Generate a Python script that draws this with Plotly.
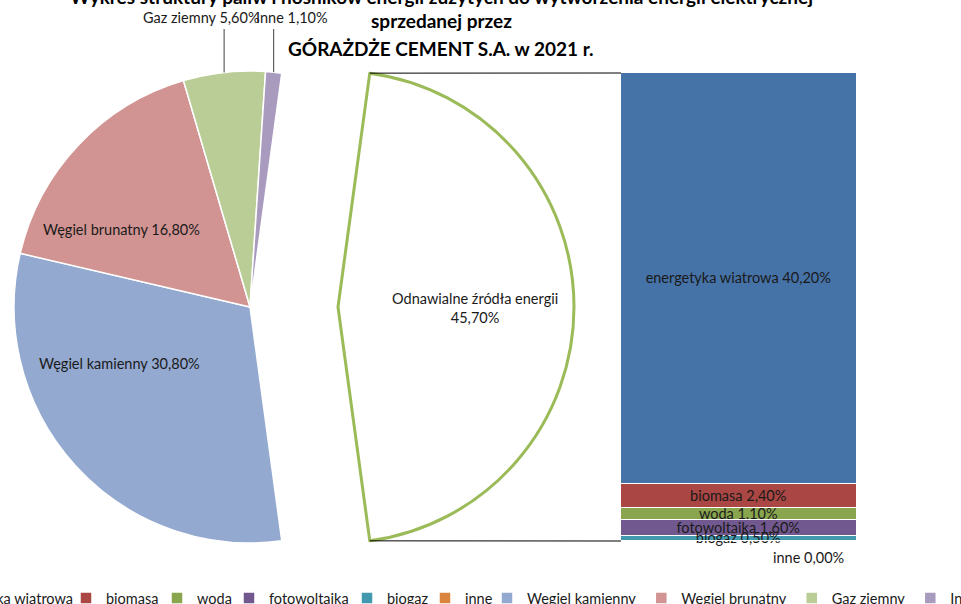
import math
import plotly.graph_objects as go

# ---------------- data ----------------
pie_labels = ["Węgiel kamienny", "Węgiel brunatny", "Gaz ziemny", "Inne", "Odnawialne źródła energii"]
pie_values = [30.8, 16.8, 5.6, 1.1, 45.7]
pie_colors = ["#94A9D0", "#D19493", "#BACD97", "#A99BBD"]

bar_labels = ["energetyka wiatrowa", "biomasa", "woda", "fotowoltaika", "biogaz", "inne"]
bar_values = [40.2, 2.4, 1.1, 1.6, 0.5, 0.0]
bar_colors = ["#4572A7", "#AA4643", "#89A54E", "#71588F", "#4198AF", "#DB843D"]

title_lines = [
    "Wykres struktury paliw i nośników energii zużytych do wytworzenia energii elektrycznej",
    "sprzedanej przez",
    "GÓRAŻDŻE CEMENT S.A. w 2021 r.",
]

# ---------------- layout geometry (pixels) ----------------
W, H = 961, 604
MB = 22
PH = H - MB
FONT = "Lato"
FS = 14.5
TXT = "#1a1a1a"


def px(x):
    return x / W


def py(y):
    return (PH - y) / PH


def fmt(v):
    return f"{v:.2f}".replace(".", ",") + "%"


R = 236
C1 = (250, 307)   # main pie centre
C2 = (338, 307)   # detached renewable slice centre
BAR_X = (621, 857)
BAR_Y = (73, 541)

total_pie = sum(pie_values)
deg = 360.0 / total_pie
rotation = 90 + pie_values[-1] * deg / 2


def edge(c, ang):
    a = math.radians(ang)
    return c[0] + R * math.sin(a), c[1] - R * math.cos(a)


fig = go.Figure()

# main pie (renewable slice invisible here)
fig.add_trace(go.Pie(
    labels=pie_labels, values=pie_values, sort=False, direction="clockwise",
    rotation=rotation, textinfo="none", hoverinfo="label+percent",
    marker=dict(colors=pie_colors + ["rgba(0,0,0,0)"],
                line=dict(color=["white"] * 4 + ["rgba(0,0,0,0)"], width=[1.5] * 4 + [0])),
    domain=dict(x=[px(C1[0] - R), px(C1[0] + R)], y=[py(C1[1] + R), py(C1[1] - R)]),
    legend="legend7", showlegend=True,
))

# detached renewable slice
fig.add_trace(go.Pie(
    labels=pie_labels, values=pie_values, sort=False, direction="clockwise",
    rotation=rotation, textinfo="none", hoverinfo="label+percent",
    marker=dict(colors=["rgba(0,0,0,0)"] * 4 + ["white"],
                line=dict(color=["rgba(0,0,0,0)"] * 4 + ["#9BBB59"], width=[0] * 4 + [3])),
    domain=dict(x=[px(C2[0] - R), px(C2[0] + R)], y=[py(C2[1] + R), py(C2[1] - R)]),
    showlegend=False,
))

# stacked bar of renewables
legend_text_x = [-60, 106, 197, 269, 387, 465]
for i, (lab, val, col) in enumerate(zip(bar_labels, bar_values, bar_colors)):
    lg = "legend" if i == 0 else f"legend{i + 1}"
    fig.add_trace(go.Bar(
        x=[0], y=[val], name=lab, width=1,
        marker=dict(color=col, line=dict(color="white", width=1.5)),
        text=[f"{lab} {fmt(val)}"] if val > 0 else None,
        textposition="inside", insidetextanchor="middle", textangle=0,
        constraintext="none", cliponaxis=False,
        insidetextfont=dict(family=FONT, size=FS, color=TXT),
        legend=lg,
    ))

annotations = []
# title
for txt, yc in zip(title_lines, [-4, 21, 48]):
    annotations.append(dict(text=f"<b>{txt}</b>", x=px(441), y=py(yc), xref="paper", yref="paper",
                            showarrow=False, xanchor="center", yanchor="middle",
                            font=dict(family=FONT, size=19, color="#000")))

# pie labels
pie_label_pos = [(119, 363), (121, 229), (201, 17), (292, 17)]
for lab, val, (x, y) in zip(pie_labels[:4], pie_values[:4], pie_label_pos):
    annotations.append(dict(text=f"{lab} {fmt(val)}", x=px(x), y=py(y), xref="paper", yref="paper",
                            showarrow=False, xanchor="center", yanchor="middle",
                            font=dict(family=FONT, size=FS, color=TXT)))
annotations.append(dict(text=f"{pie_labels[4]}<br>{fmt(pie_values[4])}", x=px(475), y=py(308),
                        xref="paper", yref="paper", showarrow=False,
                        font=dict(family=FONT, size=FS, color=TXT)))
# zero-value bar label
annotations.append(dict(text=f"{bar_labels[-1]} {fmt(bar_values[-1])}", x=0, y=sum(bar_values),
                        xref="x", yref="y", showarrow=False, xshift=69, yshift=-16,
                        font=dict(family=FONT, size=FS, color=TXT)))

shapes = []
# leader lines for small slices
cum = 0
for i, v in enumerate(pie_values[:4]):
    mid = rotation + (cum + v / 2) * deg
    cum += v
    if i >= 2:
        ex, ey = edge(C1, mid)
        shapes.append(dict(type="line", xref="paper", yref="paper", x0=px(ex), y0=py(ey),
                           x1=px(ex), y1=py(29), line=dict(color="#404040", width=1)))

# connector lines between detached slice and bar
a_start = rotation + (total_pie - pie_values[-1]) * deg
a_end = rotation + total_pie * deg
for ang, by in [(a_start, BAR_Y[0]), (a_end, BAR_Y[1])]:
    ex, ey = edge(C2, ang)
    shapes.append(dict(type="line", xref="paper", yref="paper", x0=px(ex), y0=py(ey),
                       x1=px(BAR_X[0]), y1=py(by), line=dict(color="#000", width=1)))

layout = dict(
    width=W, height=H,
    margin=dict(l=0, r=0, t=0, b=MB, autoexpand=False),
    paper_bgcolor="white", plot_bgcolor="rgba(0,0,0,0)",
    barmode="stack", bargap=0,
    xaxis=dict(domain=[px(BAR_X[0]), px(BAR_X[1])], range=[-0.5, 0.5], visible=False, fixedrange=True),
    yaxis=dict(domain=[py(BAR_Y[1]), py(BAR_Y[0])], range=[sum(bar_values), 0], visible=False,
               fixedrange=True),
    annotations=annotations, shapes=shapes,
    font=dict(family=FONT, size=FS, color=TXT),
)

LEG_OFF = 40
for i, tx in enumerate(legend_text_x):
    key = "legend" if i == 0 else f"legend{i + 1}"
    layout[key] = dict(orientation="h", x=px(tx - LEG_OFF), xanchor="left", y=0, yanchor="top",
                       bgcolor="rgba(0,0,0,0)", font=dict(family=FONT, size=FS, color=TXT))
layout["legend7"] = dict(orientation="h", x=px(527 - LEG_OFF), xanchor="left", y=0, yanchor="top",
                         bgcolor="rgba(0,0,0,0)", font=dict(family=FONT, size=FS, color=TXT))

fig.update_layout(**layout)
fig.write_html(
    "out.html",
    config={"displayModeBar": False},
    post_script="document.body.style.margin='0';document.documentElement.style.overflow='hidden';",
)
